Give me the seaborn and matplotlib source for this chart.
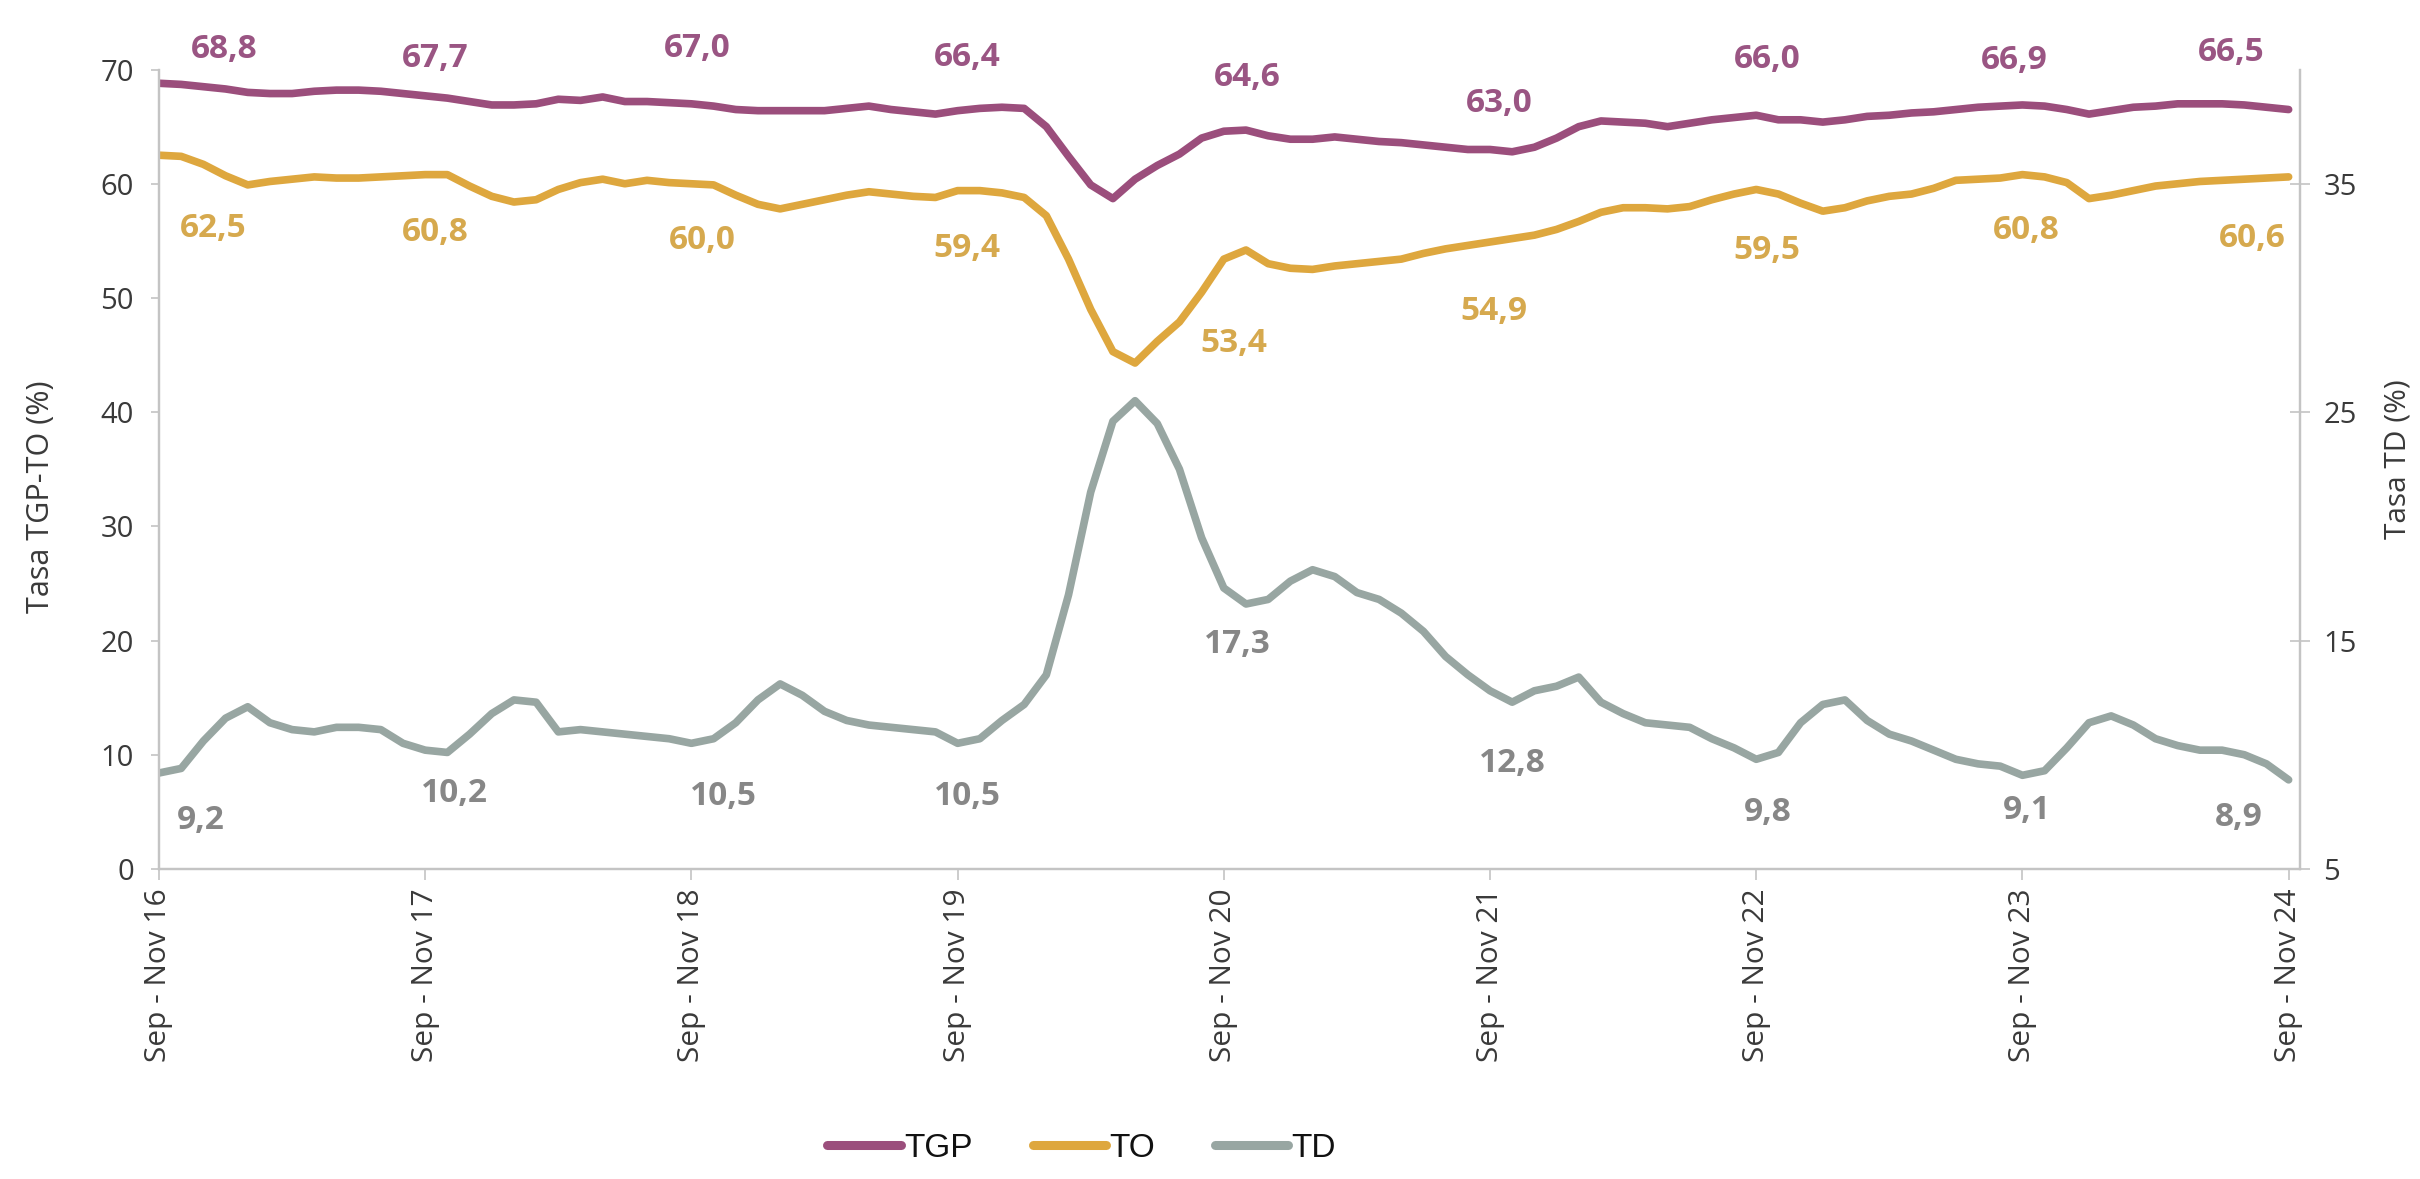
import matplotlib
matplotlib.use("Agg")
import matplotlib.pyplot as plt
import seaborn as sns
import pandas as pd
import numpy as np

# ---------------- data ----------------
tick_labels = ["Sep - Nov 16", "Sep - Nov 17", "Sep - Nov 18", "Sep - Nov 19",
               "Sep - Nov 20", "Sep - Nov 21", "Sep - Nov 22", "Sep - Nov 23",
               "Sep - Nov 24"]

tgp = [68.8, 68.7, 68.5, 68.3, 68.0, 67.9, 67.9, 68.1, 68.2, 68.2, 68.1, 67.9,
       67.7, 67.5, 67.2, 66.9, 66.9, 67.0, 67.4, 67.3, 67.6, 67.2, 67.2, 67.1,
       67.0, 66.8, 66.5, 66.4, 66.4, 66.4, 66.4, 66.6, 66.8, 66.5, 66.3, 66.1,
       66.4, 66.6, 66.7, 66.6, 65.0, 62.4, 59.9, 58.7, 60.4, 61.6, 62.6, 64.0,
       64.6, 64.7, 64.2, 63.9, 63.9, 64.1, 63.9, 63.7, 63.6, 63.4, 63.2, 63.0,
       63.0, 62.8, 63.2, 64.0, 65.0, 65.5, 65.4, 65.3, 65.0, 65.3, 65.6, 65.8,
       66.0, 65.6, 65.6, 65.4, 65.6, 65.9, 66.0, 66.2, 66.3, 66.5, 66.7, 66.8,
       66.9, 66.8, 66.5, 66.1, 66.4, 66.7, 66.8, 67.0, 67.0, 67.0, 66.9, 66.7,
       66.5]

to = [62.5, 62.4, 61.7, 60.7, 59.9, 60.2, 60.4, 60.6, 60.5, 60.5, 60.6, 60.7,
      60.8, 60.8, 59.8, 58.9, 58.4, 58.6, 59.5, 60.1, 60.4, 60.0, 60.3, 60.1,
      60.0, 59.9, 59.0, 58.2, 57.8, 58.2, 58.6, 59.0, 59.3, 59.1, 58.9, 58.8,
      59.4, 59.4, 59.2, 58.8, 57.2, 53.4, 49.0, 45.3, 44.3, 46.2, 47.9, 50.5,
      53.4, 54.2, 53.0, 52.6, 52.5, 52.8, 53.0, 53.2, 53.4, 53.9, 54.3, 54.6,
      54.9, 55.2, 55.5, 56.0, 56.7, 57.5, 57.9, 57.9, 57.8, 58.0, 58.6, 59.1,
      59.5, 59.1, 58.3, 57.6, 57.9, 58.5, 58.9, 59.1, 59.6, 60.3, 60.4, 60.5,
      60.8, 60.6, 60.1, 58.7, 59.0, 59.4, 59.8, 60.0, 60.2, 60.3, 60.4, 60.5,
      60.6]

td = [9.2, 9.4, 10.6, 11.6, 12.1, 11.4, 11.1, 11.0, 11.2, 11.2, 11.1, 10.5,
      10.2, 10.1, 10.9, 11.8, 12.4, 12.3, 11.0, 11.1, 11.0, 10.9, 10.8, 10.7,
      10.5, 10.7, 11.4, 12.4, 13.1, 12.6, 11.9, 11.5, 11.3, 11.2, 11.1, 11.0,
      10.5, 10.7, 11.5, 12.2, 13.5, 17.0, 21.5, 24.6, 25.5, 24.5, 22.5, 19.5,
      17.3, 16.6, 16.8, 17.6, 18.1, 17.8, 17.1, 16.8, 16.2, 15.4, 14.3, 13.5,
      12.8, 12.3, 12.8, 13.0, 13.4, 12.3, 11.8, 11.4, 11.3, 11.2, 10.7, 10.3,
      9.8, 10.1, 11.4, 12.2, 12.4, 11.5, 10.9, 10.6, 10.2, 9.8, 9.6, 9.5,
      9.1, 9.3, 10.3, 11.4, 11.7, 11.3, 10.7, 10.4, 10.2, 10.2, 10.0, 9.6,
      8.9]

# ---------------- style ----------------
sns.set_theme(style="white")
plt.rcParams['font.family'] = ['Open Sans', 'DejaVu Sans']

C_TGP = "#9B4E7C"
C_TO = "#DEA73E"
C_TD = "#98A6A2"
L_TGP = "#9A5583"
L_TO = "#D6A94E"
L_TD = "#878787"
SPINE = "#C4C4C4"
TXT = "#3A3A3A"

df = pd.DataFrame({"t": np.arange(len(tgp)), "TGP": tgp, "TO": to, "TD": td})

fig = plt.figure(figsize=(24.2, 11.79), dpi=100)
ax = fig.add_axes([0.0657, 0.263, 0.8846, 0.678])
ax2 = ax.twinx()

sns.lineplot(data=df, x="t", y="TGP", ax=ax, color=C_TGP, linewidth=5.5, label="TGP", legend=False)
sns.lineplot(data=df, x="t", y="TO", ax=ax, color=C_TO, linewidth=5.5, label="TO", legend=False)
sns.lineplot(data=df, x="t", y="TD", ax=ax2, color=C_TD, linewidth=5.5, label="TD", legend=False)

ax.set_xlim(0, 96.5)
ax.set_ylim(0, 70)
ax2.set_ylim(5, 40)

tick_pos = [12 * k for k in range(len(tick_labels))]
ax.set_xticks(tick_pos)
ax.set_xticklabels(tick_labels, rotation=90, fontsize=21.5, color=TXT)
ax.set_yticks(range(0, 71, 10))
ax.set_yticklabels([str(v) for v in range(0, 71, 10)], fontsize=21, color=TXT)
ax2.set_yticks([5, 15, 25, 35])
ax2.set_yticklabels(["5", "15", "25", "35"], fontsize=21, color=TXT)

ax.tick_params(axis="x", direction="out", length=8, width=1.2, color=SPINE, pad=6, bottom=True)
ax.tick_params(axis="y", direction="out", length=6, width=1.2, color=SPINE, pad=12, left=True)
ax2.tick_params(axis="y", direction="inout", length=14, width=1.2, color=SPINE, pad=10, right=True)

for a in (ax, ax2):
    for s in a.spines.values():
        s.set_color(SPINE)
        s.set_linewidth(1.6)
    a.spines["top"].set_visible(False)
    a.grid(False)

ax.set_xlabel("")
ax.set_ylabel("Tasa TGP-TO (%)", fontsize=22, color=TXT)
ax2.set_ylabel("Tasa TD (%)", fontsize=21.5, color=TXT)
ax.yaxis.set_label_coords(-0.048, 0.465)
ax2.yaxis.set_label_coords(1.039, 0.513)

# ---------------- data labels ----------------
lab_idx = tick_pos
off_tgp = [(47, 24), (7, 27), (4, 40), (7, 38), (17, 39), (7, 33), (8, 40), (-6, 32), (-41, 41)]
off_to = [(39, -53), (7, -42), (8, -41), (7, -42), (7, -61), (3, -50), (8, -44), (3, -40), (-26, -44)]
off_td = [(30, -34), (21, -31), (23, -38), (7, -38), (10, -41), (16, -52), (8, -38), (3, -25), (-36, -27)]

def fmt(v):
    return f"{v:.1f}".replace(".", ",")

LBL = dict(ha="center", va="center", fontsize=24, fontweight="bold", annotation_clip=False,
           textcoords="offset points")
for k, i in enumerate(lab_idx):
    ax.annotate(fmt(tgp[i]), (i, tgp[i]), xytext=off_tgp[k], color=L_TGP, **LBL)
    ax.annotate(fmt(to[i]), (i, to[i]), xytext=off_to[k], color=L_TO, **LBL)
    ax2.annotate(fmt(td[i]), (i, td[i]), xytext=off_td[k], color=L_TD, **LBL)

# ---------------- legend ----------------
h1, l1 = ax.get_legend_handles_labels()
h2, l2 = ax2.get_legend_handles_labels()
leg = fig.legend(h1 + h2, l1 + l2, loc="center", bbox_to_anchor=(0.447, 0.026), ncol=3,
                 frameon=False, handlelength=2.2, handletextpad=0.1, columnspacing=1.8,
                 prop={"family": ["Liberation Sans", "DejaVu Sans"], "size": 24})
for ln in leg.get_lines():
    ln.set_linewidth(6.5)
for t in leg.get_texts():
    t.set_color("#111111")

fig.savefig("out.png", dpi=100, facecolor="white")
